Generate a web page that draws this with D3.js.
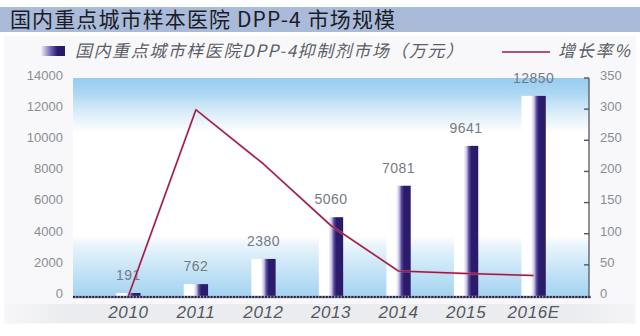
<!DOCTYPE html>
<html>
<head>
<meta charset="utf-8">
<script src="https://cdn.jsdelivr.net/npm/d3@7"></script>
<style>
  html, body { margin: 0; padding: 0; background: #ffffff; }
  svg { display: block; }
</style>
</head>
<body>
<svg id="chart" width="640" height="336"></svg>
<script>
// Market size of DPP-4 inhibitors in sample hospitals (10k CNY) and growth rate (%)
const years = ["2010", "2011", "2012", "2013", "2014", "2015", "2016E"];
const marketSize = [191, 762, 2380, 5060, 7081, 9641, 12850];
const growthRate = [0, 299, 212, 113, 40, 36, 33];
const leftTicks = [0, 2000, 4000, 6000, 8000, 10000, 12000, 14000];
const rightTicks = [0, 50, 100, 150, 200, 250, 300, 350];

const titleText = "国内重点城市样本医院 DPP-4 市场规模";
const barLegend = "国内重点城市样医院DPP-4抑制剂市场（万元）";
const lineLegend = "增长率%";

const W = 640, H = 336;
const plot = { left: 73, right: 589, top: 78, bottom: 297 };

const svg = d3.select("#chart");
const defs = svg.append("defs");

const cjk = "'Noto Sans CJK SC', 'Noto Sans', sans-serif";
const num = "'Liberation Sans', Arial, sans-serif";

// plot backdrop: blue at the top and bottom, white in the middle
const bg = defs.append("linearGradient").attr("id", "plotBg")
  .attr("x1", 0).attr("y1", 0).attr("x2", 0).attr("y2", 1);
[["0%", "#96cdf0"], ["7%", "#acd7f3"], ["16%", "#dcedf9"], ["25%", "#ffffff"],
 ["72%", "#ffffff"], ["76%", "#eaf5fc"], ["88%", "#c4e3f6"], ["100%", "#a3d3f1"]]
  .forEach(([o, c]) => bg.append("stop").attr("offset", o).attr("stop-color", c));

// bars: white on the left, deep indigo on the right
const barGrad = defs.append("linearGradient").attr("id", "barGrad")
  .attr("x1", 0).attr("y1", 0).attr("x2", 1).attr("y2", 0);
[["0%", "#ffffff"], ["40%", "#ffffff"], ["52%", "#c9c3e6"], ["62%", "#5a4b9e"],
 ["72%", "#2c1c6e"], ["100%", "#2a1a66"]]
  .forEach(([o, c]) => barGrad.append("stop").attr("offset", o).attr("stop-color", c));

// soft grey band behind the year labels
const bandGrad = defs.append("linearGradient").attr("id", "bandGrad")
  .attr("x1", 0).attr("y1", 0).attr("x2", 1).attr("y2", 0);
[["0%", "#f6f6f8"], ["10%", "#ebecef"], ["90%", "#ebecef"], ["100%", "#f4f4f6"]]
  .forEach(([o, c]) => bandGrad.append("stop").attr("offset", o).attr("stop-color", c));

// page background
svg.append("rect").attr("x", 0).attr("y", 0).attr("width", W).attr("height", H).attr("fill", "#ffffff");
svg.append("rect").attr("x", 4).attr("y", 36).attr("width", W - 8).attr("height", 288).attr("fill", "#f8f8fa");
svg.append("rect").attr("x", 6).attr("y", 304).attr("width", W - 12).attr("height", 19).attr("fill", "url(#bandGrad)");

// title bar
svg.append("rect").attr("x", 0).attr("y", 7).attr("width", W).attr("height", 25).attr("fill", "#a9bbd8");
svg.append("text").attr("x", 10).attr("y", 27)
  .attr("font-family", cjk).attr("font-size", 21).attr("fill", "#1c1c28")
  .attr("textLength", 385).attr("lengthAdjust", "spacing")
  .text(titleText);

// scales
const x = d3.scaleBand().domain(years).range([plot.left, plot.right]).padding(0.64);
const xc = d => x(d) + x.bandwidth() / 2;
const yL = d3.scaleLinear().domain([0, 14000]).range([plot.bottom - 1, plot.top]);
const yR = d3.scaleLinear().domain([0, 350]).range([plot.bottom - 1, plot.top]);

// plot area
svg.append("rect").attr("x", plot.left).attr("y", plot.top)
  .attr("width", plot.right - plot.left).attr("height", plot.bottom - plot.top)
  .attr("fill", "url(#plotBg)");

// bars
svg.append("g").selectAll("rect").data(marketSize).join("rect")
  .attr("x", (d, i) => x(years[i]))
  .attr("y", d => yL(d))
  .attr("width", x.bandwidth())
  .attr("height", d => yL(0) - yL(d))
  .attr("fill", "url(#barGrad)");

// value labels
svg.append("g").selectAll("text").data(marketSize).join("text")
  .attr("x", (d, i) => xc(years[i]))
  .attr("y", d => yL(d) - 13)
  .attr("text-anchor", "middle")
  .attr("font-family", num).attr("font-size", 14).attr("fill", "#767a82")
  .attr("letter-spacing", 0.5)
  .text(d => d);

// growth-rate line
const line = d3.line().x((d, i) => xc(years[i])).y(d => yR(d));
svg.append("path").datum(growthRate)
  .attr("d", line).attr("fill", "none")
  .attr("stroke", "#e8a0c0").attr("stroke-width", 2.6).attr("stroke-opacity", 0.45);
svg.append("path").datum(growthRate)
  .attr("d", line).attr("fill", "none")
  .attr("stroke", "#9a1c40").attr("stroke-width", 1.5).attr("stroke-linejoin", "round");

// dotted baseline
svg.append("line").attr("x1", plot.left).attr("x2", plot.right + 2)
  .attr("y1", plot.bottom).attr("y2", plot.bottom)
  .attr("stroke", "#8b8fa8").attr("stroke-width", 2.4);
svg.append("line").attr("x1", plot.left).attr("x2", plot.right + 2)
  .attr("y1", plot.bottom).attr("y2", plot.bottom)
  .attr("stroke", "#2b2a48").attr("stroke-width", 2).attr("stroke-dasharray", "2,1.2");

// left axis (labels only)
const leftAxis = svg.append("g").attr("transform", `translate(${plot.left - 10},0)`)
  .call(d3.axisLeft(yL).tickValues(leftTicks).tickSize(0).tickPadding(0).tickFormat(d3.format("d")));
leftAxis.select(".domain").remove();
leftAxis.selectAll("text").attr("font-family", num).attr("font-size", 13)
  .attr("fill", "#8a8d93").attr("dy", "0.1em");

// right axis with inward ticks
const rightAxis = svg.append("g").attr("transform", `translate(${plot.right},0)`)
  .call(d3.axisRight(yR).tickValues(rightTicks).tickSize(0).tickPadding(11).tickFormat(d3.format("d")));
rightAxis.select(".domain").remove();
rightAxis.selectAll("text").attr("font-family", num).attr("font-size", 13)
  .attr("fill", "#8a8d93").attr("dy", "0.1em");
svg.append("g").selectAll("line").data(rightTicks.filter(d => d > 0)).join("line")
  .attr("x1", plot.right - 5).attr("x2", plot.right)
  .attr("y1", d => yR(d)).attr("y2", d => yR(d))
  .attr("stroke", "#55575c").attr("stroke-width", 1.4);
svg.append("line").attr("x1", plot.right).attr("x2", plot.right)
  .attr("y1", plot.top).attr("y2", plot.bottom)
  .attr("stroke", "#55575c").attr("stroke-width", 1.3);

// year labels
const xAxis = svg.append("g").attr("transform", `translate(0,${plot.bottom})`)
  .call(d3.axisBottom(x).tickSize(0).tickPadding(9));
xAxis.select(".domain").remove();
xAxis.selectAll("text").attr("font-family", num).attr("font-size", 17)
  .attr("font-style", "italic").attr("fill", "#55585e").attr("letter-spacing", 0.6);

// legend
const lg = svg.append("g");
const swGrad = defs.append("linearGradient").attr("id", "swGrad")
  .attr("x1", 0).attr("y1", 0).attr("x2", 1).attr("y2", 0);
[["0%", "#ffffff"], ["45%", "#6a5fb0"], ["70%", "#2a1a6a"], ["100%", "#2a1a66"]]
  .forEach(([o, c]) => swGrad.append("stop").attr("offset", o).attr("stop-color", c));
lg.append("rect").attr("x", 40).attr("y", 46).attr("width", 25).attr("height", 10).attr("fill", "url(#swGrad)");
lg.append("text").attr("x", 75).attr("y", 57)
  .attr("font-family", cjk).attr("font-size", 17).attr("font-style", "italic")
  .attr("fill", "#5b5e66").attr("textLength", 388).attr("lengthAdjust", "spacing")
  .text(barLegend);
lg.append("line").attr("x1", 502).attr("x2", 550).attr("y1", 52).attr("y2", 52)
  .attr("stroke", "#9a1c40").attr("stroke-width", 1.6);
lg.append("text").attr("x", 558).attr("y", 57)
  .attr("font-family", cjk).attr("font-size", 17).attr("font-style", "italic")
  .attr("fill", "#5b5e66").attr("textLength", 72).attr("lengthAdjust", "spacing")
  .text(lineLegend);
</script>
</body>
</html>
